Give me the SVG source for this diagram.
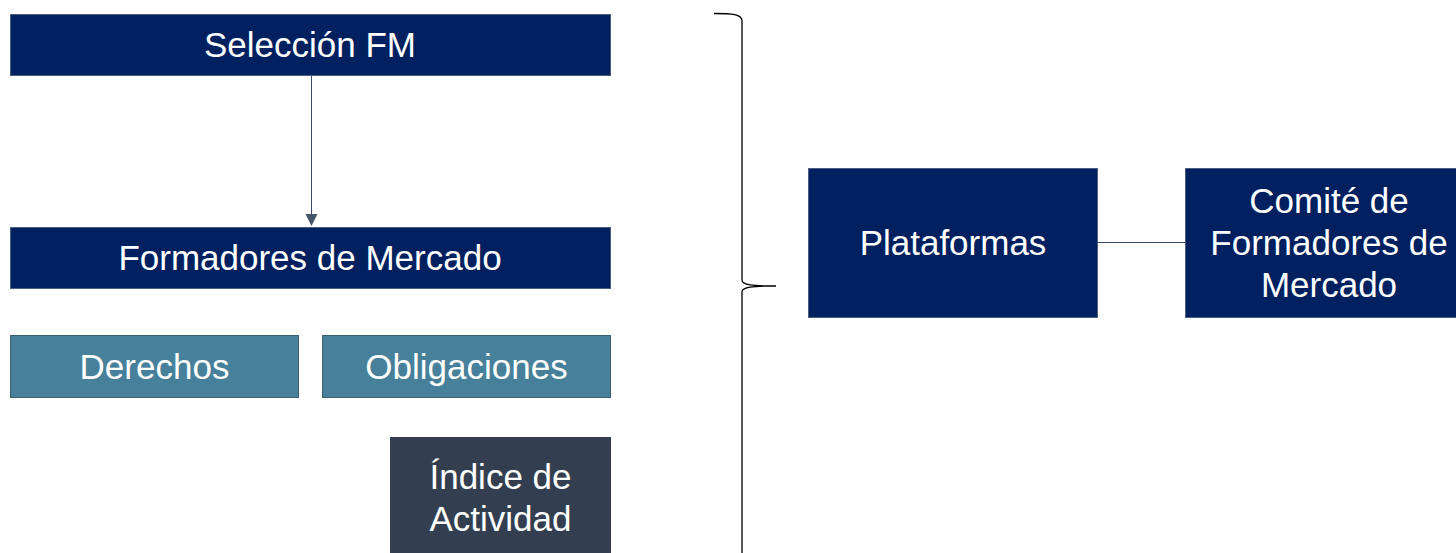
<svg xmlns="http://www.w3.org/2000/svg" width="1456" height="553" viewBox="0 0 1456 553">
  <style>
    .lbl { font-family: "Liberation Sans", Arial, sans-serif; font-size: 35px; fill: #ffffff; text-anchor: middle; }
    .navy { fill: #002060; stroke: #4A5F80; stroke-width: 1; }
    .teal { fill: #47809A; stroke: #3E6070; stroke-width: 1; }
    .slate { fill: #333F50; stroke: #333F50; stroke-width: 1; }
    .conn { stroke: #3A4A64; stroke-width: 1; fill: none; }
  </style>
  <rect width="1456" height="553" fill="#ffffff"/>
  <g id="connectors">
    <line class="conn" x1="311.5" y1="75" x2="311.5" y2="214"/>
    <path d="M305.5,214 L317.5,214 L311.5,226 Z" fill="#44546A"/>
    <line class="conn" x1="1097" y1="242.5" x2="1185" y2="242.5"/>
    <path d="M714,13.5 C732,13.5 742,14 742,21 L742,280 C742,285 752,286 776,286 C752,286 742,287 742,292 L742,560" fill="none" stroke="#000000" stroke-width="1.3"/>
  </g>
  <g id="seleccion">
    <rect class="navy" x="10.5" y="14.5" width="600" height="61"/>
    <text class="lbl" x="310" y="57">Selección FM</text>
  </g>
  <g id="formadores">
    <rect class="navy" x="10.5" y="227.5" width="600" height="61"/>
    <text class="lbl" x="310" y="270">Formadores de Mercado</text>
  </g>
  <g id="derechos">
    <rect class="teal" x="10.5" y="335.5" width="288" height="62"/>
    <text class="lbl" x="154.5" y="379">Derechos</text>
  </g>
  <g id="obligaciones">
    <rect class="teal" x="322.5" y="335.5" width="288" height="62"/>
    <text class="lbl" x="466.5" y="379">Obligaciones</text>
  </g>
  <g id="indice">
    <rect class="slate" x="390.5" y="437.5" width="220" height="130"/>
    <text class="lbl" x="500.5" y="489">Índice de</text>
    <text class="lbl" x="500.5" y="531">Actividad</text>
  </g>
  <g id="plataformas">
    <rect class="navy" x="808.5" y="168.5" width="289" height="149"/>
    <text class="lbl" x="953" y="255">Plataformas</text>
  </g>
  <g id="comite">
    <rect class="navy" x="1185.5" y="168.5" width="289" height="149"/>
    <text class="lbl" x="1329" y="213">Comité de</text>
    <text class="lbl" x="1329" y="255">Formadores de</text>
    <text class="lbl" x="1329" y="297">Mercado</text>
  </g>
</svg>
